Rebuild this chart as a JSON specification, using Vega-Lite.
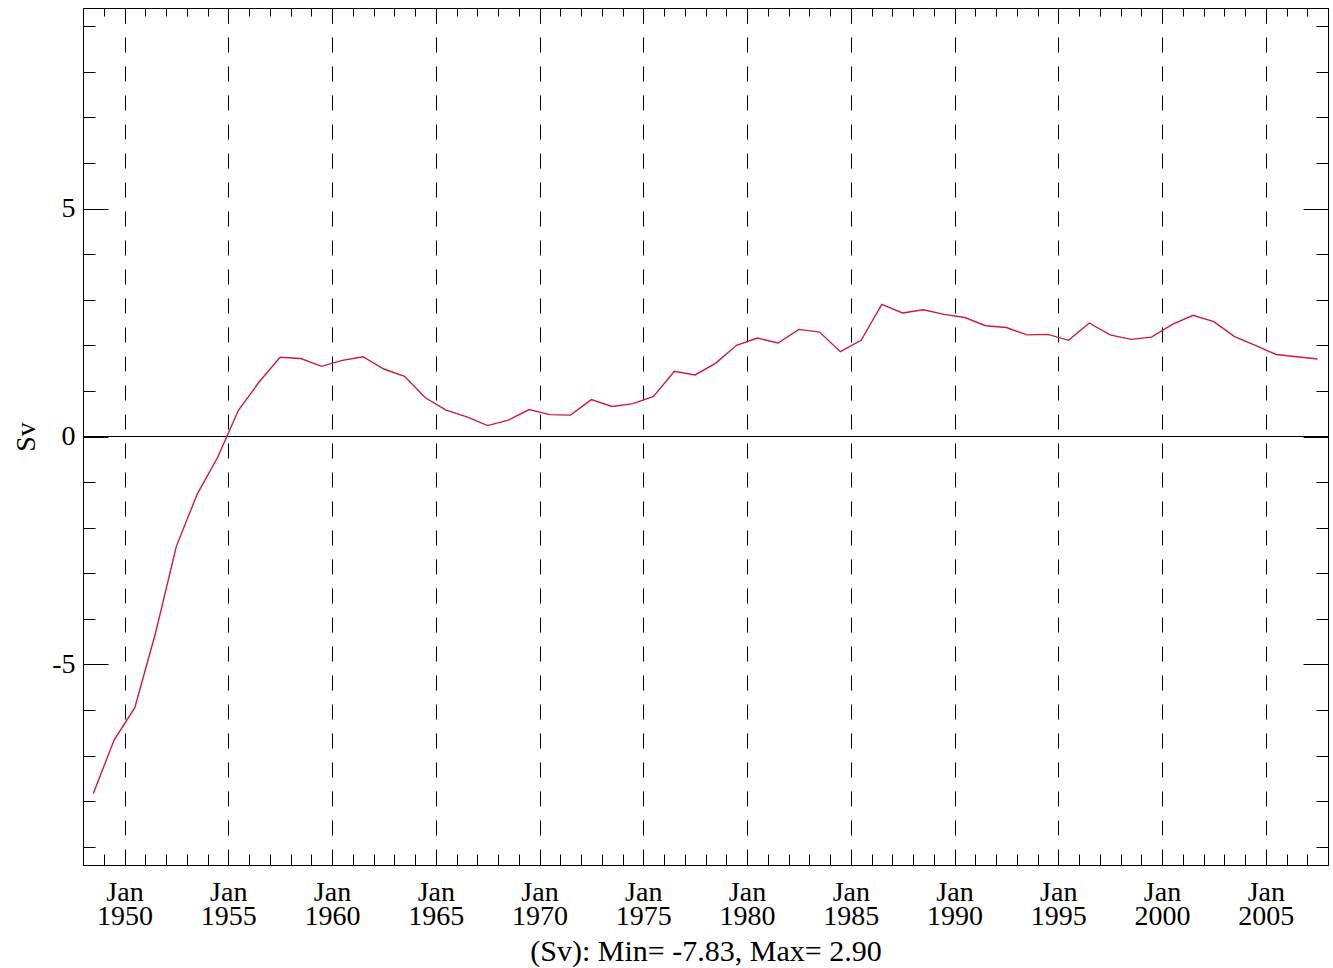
{
  "$schema": "https://vega.github.io/schema/vega-lite/v6.json",
  "width": 1245,
  "height": 857,
  "autosize": "none",
  "padding": {"left": 83, "top": 8, "right": 5, "bottom": 103},
  "background": "white",
  "config": {
    "view": {"stroke": "black", "strokeWidth": 1},
    "font": "Liberation Serif",
    "axis": {
      "domain": false,
      "tickColor": "black",
      "tickWidth": 1,
      "labelColor": "black",
      "titleColor": "black",
      "labelFont": "Liberation Serif",
      "titleFont": "Liberation Serif",
      "titleFontWeight": "normal",
      "labelFontSize": 28,
      "titleFontSize": 30,
      "grid": false
    }
  },
  "data": {
    "values": [
      {"date": "1948-07-01", "sv": -7.83},
      {"date": "1949-07-01", "sv": -6.66},
      {"date": "1950-07-01", "sv": -5.95},
      {"date": "1951-07-01", "sv": -4.31},
      {"date": "1952-07-01", "sv": -2.41},
      {"date": "1953-07-01", "sv": -1.27},
      {"date": "1954-07-01", "sv": -0.45},
      {"date": "1955-07-01", "sv": 0.58},
      {"date": "1956-07-01", "sv": 1.2},
      {"date": "1957-07-01", "sv": 1.74},
      {"date": "1958-07-01", "sv": 1.71},
      {"date": "1959-07-01", "sv": 1.54},
      {"date": "1960-07-01", "sv": 1.67},
      {"date": "1961-07-01", "sv": 1.75},
      {"date": "1962-07-01", "sv": 1.48},
      {"date": "1963-07-01", "sv": 1.32},
      {"date": "1964-07-01", "sv": 0.85},
      {"date": "1965-07-01", "sv": 0.58},
      {"date": "1966-07-01", "sv": 0.43},
      {"date": "1967-07-01", "sv": 0.24},
      {"date": "1968-07-01", "sv": 0.36},
      {"date": "1969-07-01", "sv": 0.59},
      {"date": "1970-07-01", "sv": 0.48},
      {"date": "1971-07-01", "sv": 0.47},
      {"date": "1972-07-01", "sv": 0.81},
      {"date": "1973-07-01", "sv": 0.66},
      {"date": "1974-07-01", "sv": 0.72},
      {"date": "1975-07-01", "sv": 0.88},
      {"date": "1976-07-01", "sv": 1.43},
      {"date": "1977-07-01", "sv": 1.35},
      {"date": "1978-07-01", "sv": 1.61},
      {"date": "1979-07-01", "sv": 2.0},
      {"date": "1980-07-01", "sv": 2.16},
      {"date": "1981-07-01", "sv": 2.05},
      {"date": "1982-07-01", "sv": 2.35},
      {"date": "1983-07-01", "sv": 2.29},
      {"date": "1984-07-01", "sv": 1.86},
      {"date": "1985-07-01", "sv": 2.11},
      {"date": "1986-07-01", "sv": 2.9},
      {"date": "1987-07-01", "sv": 2.71},
      {"date": "1988-07-01", "sv": 2.78},
      {"date": "1989-07-01", "sv": 2.68},
      {"date": "1990-07-01", "sv": 2.61},
      {"date": "1991-07-01", "sv": 2.43},
      {"date": "1992-07-01", "sv": 2.39},
      {"date": "1993-07-01", "sv": 2.23},
      {"date": "1994-07-01", "sv": 2.24},
      {"date": "1995-07-01", "sv": 2.11},
      {"date": "1996-07-01", "sv": 2.49},
      {"date": "1997-07-01", "sv": 2.23},
      {"date": "1998-07-01", "sv": 2.13},
      {"date": "1999-07-01", "sv": 2.18},
      {"date": "2000-07-01", "sv": 2.46},
      {"date": "2001-07-01", "sv": 2.66},
      {"date": "2002-07-01", "sv": 2.52},
      {"date": "2003-07-01", "sv": 2.19},
      {"date": "2004-07-01", "sv": 2.0},
      {"date": "2005-07-01", "sv": 1.8},
      {"date": "2006-07-01", "sv": 1.75},
      {"date": "2007-07-01", "sv": 1.7}
    ]
  },
  "resolve": {"axis": {"x": "independent", "y": "independent"}},
  "layer": [
    {
      "mark": {"type": "line", "strokeOpacity": 0},
      "encoding": {
        "x": {
          "field": "date", "type": "temporal",
          "scale": {"type": "utc", "domain": [{"year": 1948, "month": 1, "date": 1, "utc": true}, {"year": 2008, "month": 1, "date": 1, "utc": true}]},
          "axis": {"orient": "bottom", "tickCount": {"interval": "year", "step": 1}, "tickSize": -11, "labels": false, "title": null, "grid": false}
        },
        "y": {
          "field": "sv", "type": "quantitative",
          "scale": {"domain": [-9.4, 9.4], "nice": false, "zero": false},
          "axis": {"orient": "left", "values": [-9, -8, -7, -6, -5, -4, -3, -2, -1, 0, 1, 2, 3, 4, 5, 6, 7, 8, 9], "tickSize": -12, "labels": false, "title": null, "grid": false}
        }
      }
    },
    {
      "mark": {"type": "line", "strokeOpacity": 0},
      "encoding": {
        "x": {
          "field": "date", "type": "temporal",
          "axis": {"orient": "top", "tickCount": {"interval": "year", "step": 1}, "tickSize": -8, "labels": false, "title": null, "grid": false}
        },
        "y": {
          "field": "sv", "type": "quantitative",
          "axis": {"orient": "right", "values": [-9, -8, -7, -6, -5, -4, -3, -2, -1, 0, 1, 2, 3, 4, 5, 6, 7, 8, 9], "tickSize": -12, "labels": false, "title": null, "grid": false}
        }
      }
    },
    {
      "mark": {"type": "line", "strokeOpacity": 0},
      "encoding": {
        "x": {
          "field": "date", "type": "temporal",
          "axis": {"orient": "top", "tickCount": {"interval": "year", "step": 5}, "tickSize": -15, "labels": false, "title": null, "grid": false}
        },
        "y": {
          "field": "sv", "type": "quantitative",
          "axis": {"orient": "right", "values": [-5, 0, 5], "tickSize": -25, "labels": false, "title": null, "grid": false}
        }
      }
    },
    {
      "mark": {"type": "rule", "color": "black", "strokeWidth": 1},
      "encoding": {"y": {"datum": 0, "type": "quantitative", "axis": null}}
    },
    {
      "mark": {"type": "line", "color": "#cc1a42", "strokeWidth": 1.4},
      "encoding": {
        "x": {
          "field": "date", "type": "temporal",
          "axis": {
            "orient": "bottom",
            "tickCount": {"interval": "year", "step": 5},
            "tickSize": -15,
            "grid": true,
            "gridColor": "black",
            "gridOpacity": 1,
            "gridWidth": 1,
            "gridDash": [15, 14],
            "labelExpr": "[utcFormat(datum.value, '%b'), utcFormat(datum.value, '%Y')]",
            "labelLineHeight": 24,
            "labelPadding": 28,
            "labelOverlap": false,
            "labelFlush": false,
            "labelBound": false,
            "title": "(Sv): Min= -7.83, Max= 2.90",
            "titlePadding": 6
          }
        },
        "y": {
          "field": "sv", "type": "quantitative",
          "axis": {
            "orient": "left",
            "values": [-5, 0, 5],
            "tickSize": -25,
            "labelPadding": 33,
            "labelExpr": "'' + datum.value",
            "title": "Sv",
            "titleFontSize": 28,
            "titlePadding": 11
          }
        }
      }
    }
  ]
}
